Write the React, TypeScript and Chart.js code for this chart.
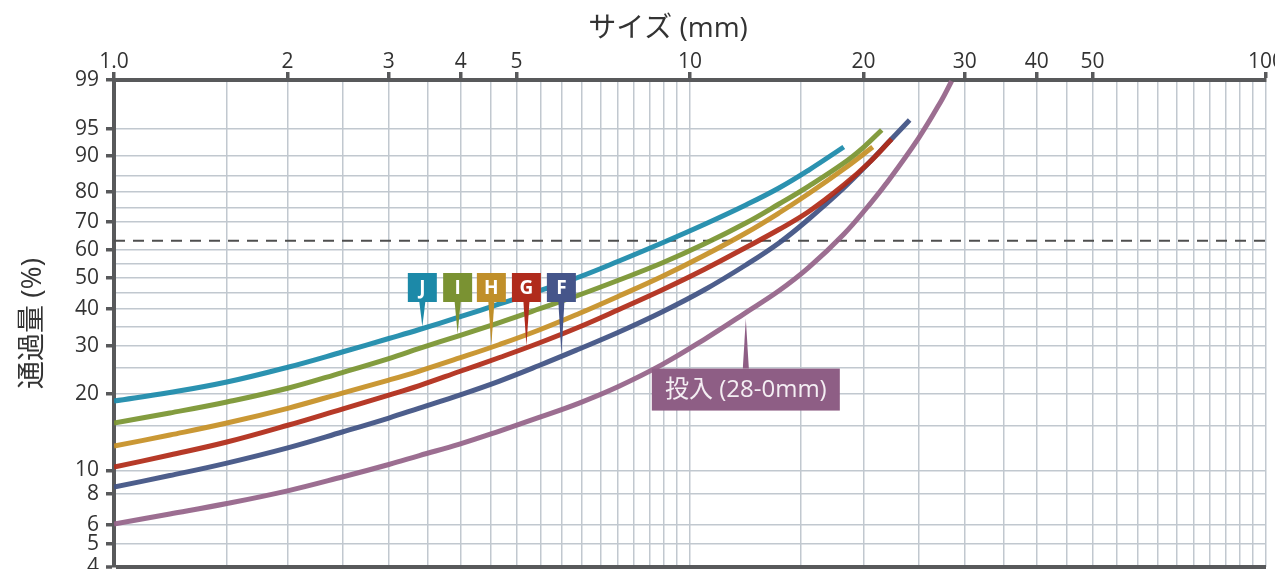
import React, { useEffect, useRef } from 'react';
import { Chart, registerables, Scale } from 'chart.js';

const FONT = '"Open Sans", "Noto Sans CJK JP", sans-serif';

// ---- text ----
const xTitle = 'サイズ (mm)';
const yTitle = '通過量 (%)';
const inputLabel = '投入 (28-0mm)';

// ---- axes ----
const xMin = 1;
const xMax = 100;
const xGridValues = [1, 1.57, 2, 2.5, 3, 3.5, 4, 4.5, 5, 5.5, 6, 6.5, 7, 7.5, 8, 8.5, 9, 9.5, 10,
  15.6, 20, 25, 30, 35, 40, 45, 50, 55, 60, 65, 70, 75, 80, 85, 90, 95, 100];
const xLabelValues = [1, 2, 3, 4, 5, 10, 20, 30, 40, 50, 100];
const xLabelTexts = ['1.0', '2', '3', '4', '5', '10', '20', '30', '40', '50', '100'];

const yMin = 4;
const yMax = 99.2;
const yGridValues = [99.2, 95, 90, 85, 80, 75, 70, 60, 55, 50, 45, 40, 35, 30, 25, 20, 15, 10, 8, 6, 5, 4];
const yLabelValues = [99.2, 95, 90, 80, 70, 60, 50, 40, 30, 20, 10, 8, 6, 5, 4];
const yLabelTexts = ['99', '95', '90', '80', '70', '60', '50', '40', '30', '20', '10', '8', '6', '5', '4'];

const characteristicLevel = 63.21; // dashed line (1 - 1/e)

// ---- series (size mm -> passing %) ----
const sizesJ = [1.0, 1.25, 1.57, 2.01, 2.49, 3.0, 3.39, 3.98, 4.67, 5.47, 6.42, 7.53, 8.94, 10.58, 12.5, 14.27, 16.08, 18.49];
const passJ = [18.75, 20.2, 22.13, 25.16, 28.52, 31.84, 34.2, 37.7, 41.58, 45.69, 50.35, 55.91, 62.36, 69.01, 75.79, 81.27, 86.44, 91.82];

const sizesI = [1.0, 1.25, 1.57, 2.01, 2.49, 3.0, 3.39, 3.98, 4.67, 5.47, 6.42, 7.53, 8.94, 10.58, 12.5, 14.27, 16.08, 18.49, 20.03, 21.52];
const passI = [15.41, 16.86, 18.59, 21.01, 24.01, 27.02, 29.36, 32.61, 36.13, 40.06, 44.4, 49.33, 55.21, 62.0, 69.54, 76.12, 81.88, 88.24, 91.82, 94.81];

const sizesH = [1.0, 1.25, 1.57, 2.01, 2.49, 3.0, 3.39, 3.98, 4.67, 5.47, 6.42, 7.53, 8.94, 10.58, 12.5, 14.27, 16.08, 18.49, 20.76];
const passH = [12.5, 13.83, 15.41, 17.62, 20.11, 22.51, 24.32, 27.14, 30.33, 34.07, 38.72, 44.08, 50.52, 57.87, 65.97, 73.05, 79.55, 86.71, 91.82];

const sizesG = [1.0, 1.25, 1.57, 2.01, 2.49, 3.0, 3.39, 3.98, 4.67, 5.47, 6.42, 7.53, 8.94, 10.58, 12.5, 14.27, 16.08, 18.49, 20.43, 22.39];
const passG = [10.3, 11.51, 12.97, 15.14, 17.47, 19.76, 21.47, 24.22, 27.25, 30.7, 34.88, 39.91, 46.01, 52.93, 60.74, 67.22, 73.57, 82.18, 88.24, 93.33];

const sizesF = [1.0, 1.25, 1.57, 2.01, 2.49, 3.0, 3.39, 3.98, 4.67, 5.47, 6.42, 7.53, 8.94, 10.58, 12.5, 14.27, 16.08, 18.49, 20.43, 22.13, 24.06];
const passF = [8.55, 9.52, 10.69, 12.33, 14.21, 16.12, 17.62, 19.76, 22.32, 25.48, 29.24, 33.53, 39.16, 46.01, 54.51, 62.36, 70.95, 81.27, 88.24, 92.79, 96.17];

const sizesIn = [1.0, 1.25, 1.57, 2.01, 2.49, 3.0, 3.39, 3.98, 4.67, 5.47, 6.42, 7.53, 8.94, 10.58, 12.5, 14.27, 16.08, 18.49, 20.43, 21.86, 24.94, 27.34, 28.46];
const passIn = [6.03, 6.63, 7.32, 8.27, 9.39, 10.55, 11.46, 12.73, 14.34, 16.21, 18.42, 21.34, 25.66, 31.58, 38.99, 45.75, 53.67, 65.53, 75.62, 82.39, 93.5, 98.1, 99.16];

const seriesNames = ['J', 'I', 'H', 'G', 'F', inputLabel];

// callouts: letter + size (mm) where the pointer touches the curve
const calloutLetters = ['J', 'I', 'H', 'G', 'F'];
const calloutSizes = [3.43, 3.95, 4.52, 5.2, 5.98];
const inputCalloutSize = 12.5;

// ---- styles ----
const lineColors = [
  'rgba(27,138,170,0.93)',
  'rgba(122,148,48,0.93)',
  'rgba(198,144,38,0.93)',
  'rgba(176,43,24,0.93)',
  'rgba(63,82,131,0.93)',
  'rgba(148,99,137,0.93)',
];
const boxColors = ['#1c89a8', '#7a9232', '#c08f2a', '#b02b1c', '#45558a', '#8e5e85'];
const AXIS = '#58595b';
const GRID = '#c1c8cf';
const TEXT = '#333333';

// ---- Rosin-Rammler probability scale ----
const rr = (p: number) => Math.log10(-Math.log(1 - p / 100));

class RosinRammlerScale extends Scale {
  static id = 'rosinRammler';
  static defaults = {};
  _tMin = 0;
  _tRange = 1;
  determineDataLimits() {
    const o: any = this.options;
    this.min = o.min;
    this.max = o.max;
  }
  buildTicks() {
    return yGridValues.map((v) => ({ value: v }));
  }
  configure() {
    super.configure();
    this._tMin = rr(this.min);
    this._tRange = rr(this.max) - this._tMin;
  }
  getLabelForValue(v: number) {
    return String(v);
  }
  getPixelForValue(v: number) {
    return this.getPixelForDecimal((rr(v) - this._tMin) / this._tRange);
  }
  getValueForPixel(px: number) {
    const t = this._tMin + this.getDecimalForPixel(px) * this._tRange;
    return 100 * (1 - Math.exp(-Math.pow(10, t)));
  }
  getPixelForTick(i: number) {
    return this.getPixelForValue(this.ticks[i].value);
  }
}

Chart.register(...registerables, RosinRammlerScale);

const findLabel = (v: number, values: number[], texts: string[]) => {
  const i = values.findIndex((lv) => Math.abs(lv - v) < 1e-6);
  return i >= 0 ? texts[i] : '';
};

function curveYAt(meta: any, px: number) {
  const pts = meta.data;
  for (let i = 0; i < pts.length - 1; i++) {
    const a = pts[i];
    const b = pts[i + 1];
    if (px >= a.x && px <= b.x) {
      const t = (px - a.x) / (b.x - a.x);
      return a.y + t * (b.y - a.y);
    }
  }
  return pts[pts.length - 1].y;
}

const calloutPlugin = {
  id: 'callouts',
  afterDatasetsDraw(chart: any) {
    const { ctx, chartArea, scales } = chart;
    const xs = scales.x;
    ctx.save();

    // x axis title
    ctx.fillStyle = TEXT;
    ctx.font = `28px ${FONT}`;
    ctx.textAlign = 'center';
    ctx.textBaseline = 'middle';
    ctx.fillText(xTitle, 668, 29);

    // letter callouts
    const bw = 29;
    const bh = 29;
    const top = chartArea.top + 193;
    calloutLetters.forEach((letter, i) => {
      const meta = chart.getDatasetMeta(i);
      const px = xs.getPixelForValue(calloutSizes[i]);
      const tipY = curveYAt(meta, px) - 2;
      ctx.fillStyle = boxColors[i];
      ctx.fillRect(px - bw / 2, top, bw, bh);
      ctx.beginPath();
      ctx.moveTo(px - 3, top + bh);
      ctx.lineTo(px + 3, top + bh);
      ctx.lineTo(px, tipY);
      ctx.closePath();
      ctx.fill();
      ctx.fillStyle = '#ffffff';
      ctx.font = `bold 19px ${FONT}`;
      ctx.fillText(letter, px, top + bh / 2 + 1);
    });

    // input (feed) callout
    const metaIn = chart.getDatasetMeta(5);
    const px = xs.getPixelForValue(inputCalloutSize);
    const tip = curveYAt(metaIn, px) + 6;
    const boxTop = tip + 50;
    const w = 188;
    const h = 42;
    ctx.fillStyle = boxColors[5];
    ctx.fillRect(px - w / 2, boxTop, w, h);
    ctx.beginPath();
    ctx.moveTo(px - 3, boxTop);
    ctx.lineTo(px + 3, boxTop);
    ctx.lineTo(px, tip);
    ctx.closePath();
    ctx.fill();
    ctx.fillStyle = '#f4eef3';
    ctx.font = `24px ${FONT}`;
    ctx.fillText(inputLabel, px, boxTop + h / 2 + 1);

    ctx.restore();
  },
};

export default function App() {
  const canvasRef = useRef<HTMLCanvasElement | null>(null);

  useEffect(() => {
    const canvas = canvasRef.current;
    if (!canvas) return;
    const allSizes = [sizesJ, sizesI, sizesH, sizesG, sizesF, sizesIn];
    const allPass = [passJ, passI, passH, passG, passF, passIn];

    const curveSets = allSizes.map((sizes, k) => ({
      label: seriesNames[k],
      data: sizes.map((s, i) => ({ x: s, y: allPass[k][i] })),
      borderColor: lineColors[k],
      backgroundColor: lineColors[k],
      borderWidth: 5,
      borderCapStyle: 'butt' as const,
      tension: 0.4,
      pointRadius: 0,
      fill: false,
      order: 1,
    }));

    const dashed = {
      label: '63.2%',
      data: [
        { x: xMin, y: characteristicLevel },
        { x: xMax, y: characteristicLevel },
      ],
      borderColor: '#4f4f4f',
      borderWidth: 2,
      borderDash: [11, 8],
      pointRadius: 0,
      fill: false,
      order: 10,
    };

    const chart = new Chart(canvas, {
      type: 'line',
      data: { datasets: [...curveSets, dashed] as any },
      options: {
        animation: false,
        responsive: true,
        maintainAspectRatio: false,
        layout: { padding: { left: 0, right: 9, top: 0, bottom: 2 } },
        plugins: {
          legend: { display: false },
          tooltip: { enabled: false },
          title: { display: false },
        },
        scales: {
          x: {
            type: 'logarithmic',
            position: 'top',
            min: xMin,
            max: xMax,
            afterBuildTicks: (s: any) => {
              s.ticks = xGridValues.map((v) => ({ value: v }));
            },
            afterFit: (s: any) => {
              s.height = 80;
              s.paddingLeft = 0;
              s.paddingRight = 0;
              s.paddingTop = 0;
              s.paddingBottom = 0;
            },
            ticks: {
              autoSkip: false,
              maxRotation: 0,
              minRotation: 0,
              padding: -3,
              color: TEXT,
              font: { family: FONT, size: 21 },
              callback: (v: any) => findLabel(Number(v), xLabelValues, xLabelTexts),
            },
            grid: {
              color: GRID,
              lineWidth: 1.5,
              tickLength: 8,
              tickWidth: 3.5,
              tickColor: (c: any) =>
                c.tick && findLabel(c.tick.value, xLabelValues, xLabelTexts) !== '' ? AXIS : 'rgba(0,0,0,0)',
            },
            border: { display: true, width: 4, color: AXIS },
          } as any,
          y: {
            type: 'rosinRammler',
            position: 'left',
            min: yMin,
            max: yMax,
            afterFit: (s: any) => {
              s.width = 114;
              s.paddingLeft = 0;
              s.paddingRight = 0;
              s.paddingTop = 0;
              s.paddingBottom = 0;
            },
            title: {
              display: true,
              text: yTitle,
              color: TEXT,
              font: { family: FONT, size: 28 },
              padding: { top: 16, bottom: 0 },
            },
            ticks: {
              autoSkip: false,
              padding: 7,
              color: TEXT,
              font: { family: FONT, size: 21 },
              callback: (v: any) => findLabel(Number(v), yLabelValues, yLabelTexts),
            },
            grid: {
              color: (c: any) => (c.tick && c.tick.value === yMin ? AXIS : GRID),
              lineWidth: (c: any) => (c.tick && c.tick.value === yMin ? 4 : 1.5),
              tickLength: 8,
              tickWidth: 3.5,
              tickColor: (c: any) =>
                c.tick && findLabel(c.tick.value, yLabelValues, yLabelTexts) !== '' ? AXIS : 'rgba(0,0,0,0)',
            },
            border: { display: true, width: 4, color: AXIS },
          } as any,
        },
      },
      plugins: [calloutPlugin],
    });

    return () => chart.destroy();
  }, []);

  return (
    <div style={{ position: 'fixed', left: 0, top: 0, width: 1275, height: 569, background: '#ffffff' }}>
      <canvas ref={canvasRef} />
    </div>
  );
}
